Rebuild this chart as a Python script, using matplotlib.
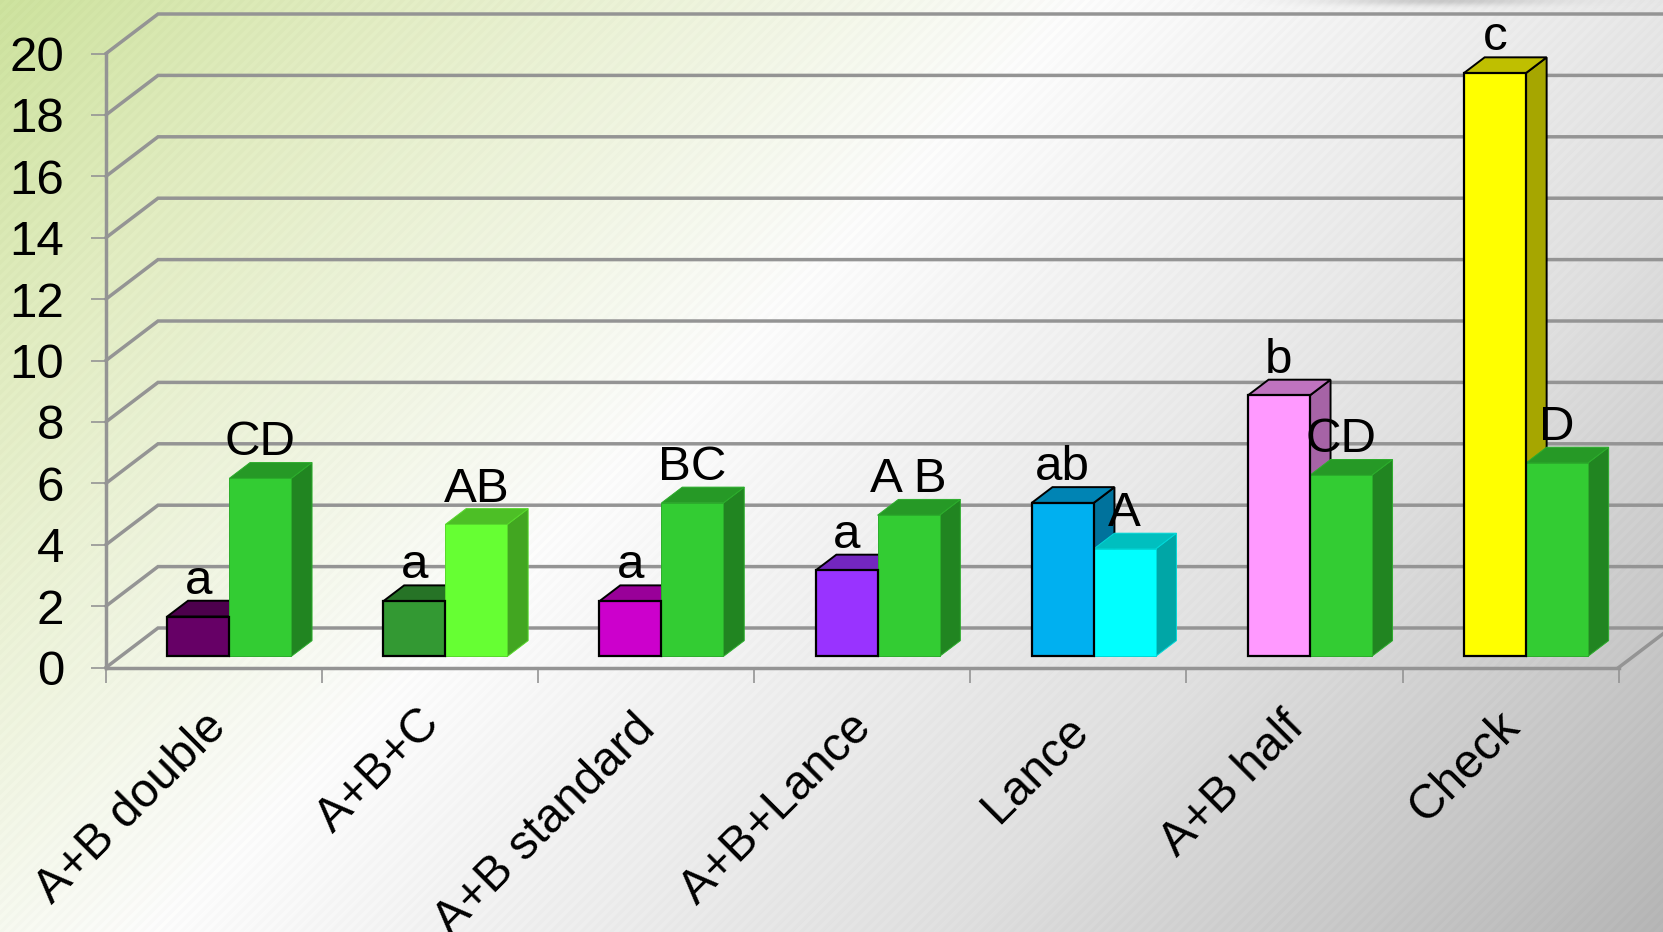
import matplotlib
matplotlib.use('Agg')
import matplotlib.pyplot as plt
import numpy as np
from matplotlib.colors import LinearSegmentedColormap, to_rgb
from matplotlib.transforms import IdentityTransform

# Data
CATEGORIES = ['A+B double', 'A+B+C', 'A+B standard', 'A+B+Lance', 'Lance', 'A+B half', 'Check']
SERIES_1 = [1.3, 1.8, 1.8, 2.8, 5.0, 8.5, 19.0]
SERIES_2 = [5.8, 4.3, 5.0, 4.6, 3.5, 5.9, 6.3]
LETTERS_1 = ['a', 'a', 'a', 'a', 'ab', 'b', 'c']
LETTERS_2 = ['CD', 'AB', 'BC', 'A B', 'A', 'CD', 'D']
COLORS_1 = ['#660066', '#339933', '#cc00cc', '#9933ff', '#00b0f0', '#ff99ff', '#ffff00']
COLORS_2 = ['#33cc33', '#66ff33', '#33cc33', '#33cc33', '#00ffff', '#33cc33', '#33cc33']
Y_TICKS = list(range(0, 21, 2))

# Where each rotated category label ends, in pixels from the top left
LABEL_ENDS = [(219, 720), (433, 716), (648, 722), (865, 720), (1082, 724), (1297, 720), (1513, 719)]

# Layout in pixels
WIDTH, HEIGHT = 1663, 932
X0, Y0 = 106, 667.5
CAT_W, UNIT_H = 216.1, 30.7
WALL_DX, WALL_DY = 52 / CAT_W, 39.5 / UNIT_H  # shift of the back wall, data units

BAR_W = 62 / CAT_W
BAR_OFFSET = 0.216
Z_FRONT, Z_BACK = 0.28, 0.68

GRID = '#949494'
FONT = 'Liberation Sans'
FONT_SIZE = 35.5
CATEGORY_FONT_SIZE = 34.5


def project(x, y, z):
    return x + z * WALL_DX, y + z * WALL_DY


def shade(color, factor):
    return tuple(c * factor for c in to_rgb(color))


def draw_background(fig):
    bg = fig.add_axes([0, 0, 1, 1], zorder=0)
    stops = [(0.0, '#cbe09c'), (0.14, '#dfeabf'), (0.42, '#fafafa'), (0.72, '#dedede'), (1.0, '#b4b4b4')]
    cmap = LinearSegmentedColormap.from_list('backdrop', stops)
    xx, yy = np.meshgrid(np.arange(WIDTH), np.arange(HEIGHT))
    t = (xx + yy) / (WIDTH + HEIGHT)
    rgb = cmap(t)[:, :, :3]
    # fine diagonal banding of the gradient
    bands = (np.floor((xx + yy) / 5) % 2) * 0.012
    rgb = np.clip(rgb + bands[:, :, None], 0, 1)
    # soft shadow along the top edge
    shadow = 0.16 * np.exp(-(yy / 5.0) ** 2) * np.exp(-((xx - 1440) / 110.0) ** 2)
    rgb = rgb * (1 - shadow[:, :, None])
    bg.imshow(rgb, aspect='auto', interpolation='nearest')
    bg.axis('off')


def draw_walls(ax):
    # gridlines run from the left edge to the back wall and across it
    for y in Y_TICKS:
        bx, by = project(0, y, 1)
        ex, ey = project(len(CATEGORIES) + 0.5, y, 1)
        ax.plot([0, bx, ex], [y, by, ey], color=GRID, lw=2.5, zorder=1, solid_joinstyle='miter')
    # right edge of the floor
    rx, ry = project(len(CATEGORIES), 0, 1)
    ax.plot([len(CATEGORIES), rx], [0, ry], color=GRID, lw=2.5, zorder=1)


def draw_box_back(ax, left, value, color, edge, lw, zorder):
    right = left + BAR_W
    side = [project(right, 0, Z_FRONT), project(right, 0, Z_BACK),
            project(right, value, Z_BACK), project(right, value, Z_FRONT)]
    top = [project(left, value, Z_FRONT), project(left, value, Z_BACK),
           project(right, value, Z_BACK), project(right, value, Z_FRONT)]
    ax.fill(*zip(*side), facecolor=shade(color, 0.65), edgecolor=edge, lw=lw, zorder=zorder)
    ax.fill(*zip(*top), facecolor=shade(color, 0.75), edgecolor=edge, lw=lw, zorder=zorder)


def draw_box_front(ax, left, value, color, edge, lw, zorder):
    x, y = project(left, 0, Z_FRONT)
    ax.bar(x, value, width=BAR_W, bottom=y, align='edge', color=color, edgecolor=edge, linewidth=lw, zorder=zorder)


def draw_bars(ax):
    for i in range(len(CATEGORIES)):
        left_1 = i + BAR_OFFSET
        left_2 = left_1 + BAR_W
        draw_box_back(ax, left_1, SERIES_1[i], COLORS_1[i], 'black', 1.4, 3)
        green_edge = shade(COLORS_2[i], 0.85)
        draw_box_back(ax, left_2, SERIES_2[i], COLORS_2[i], green_edge, 0.7, 4)
        draw_box_front(ax, left_2, SERIES_2[i], COLORS_2[i], green_edge, 0.7, 5)
        draw_box_front(ax, left_1, SERIES_1[i], COLORS_1[i], 'black', 1.6, 6)

        # significance letters sit a fixed distance above the front of each bar
        for left, value, letter in ((left_1, SERIES_1[i], LETTERS_1[i]), (left_2, SERIES_2[i], LETTERS_2[i])):
            x, y = project(left + BAR_W / 2, value, Z_FRONT)
            ax.annotate(letter, (x, y), xytext=(0, 16.5), textcoords='offset points',
                        ha='center', va='baseline', fontsize=FONT_SIZE, family=FONT, zorder=10)


def draw_axes(ax):
    for name in ('top', 'right'):
        ax.spines[name].set_visible(False)
    ax.spines['left'].set_position(('data', 0))
    ax.spines['bottom'].set_position(('data', 0))
    ax.spines['left'].set_bounds(0, 20)
    ax.spines['bottom'].set_bounds(0, len(CATEGORIES))
    for name in ('left', 'bottom'):
        ax.spines[name].set_color(GRID)
        ax.spines[name].set_linewidth(2.5)
        ax.spines[name].set_zorder(2)

    ax.set_yticks(Y_TICKS)
    ax.set_xticks(range(len(CATEGORIES) + 1))
    ax.set_xticklabels([])
    ax.tick_params(axis='both', direction='out', length=10.5, width=1.2, color=GRID)
    ax.tick_params(axis='y', pad=19.5, labelsize=FONT_SIZE)
    for label in ax.get_yticklabels():
        label.set_family(FONT)

    for name, (px, py) in zip(CATEGORIES, LABEL_ENDS):
        ax.text(px, HEIGHT - py, name, transform=IdentityTransform(), rotation=45, rotation_mode='anchor',
                ha='right', va='center', fontsize=CATEGORY_FONT_SIZE, family=FONT, zorder=10, clip_on=False)


def main():
    fig = plt.figure(figsize=(WIDTH / 100, HEIGHT / 100), dpi=100)
    draw_background(fig)

    ax = fig.add_axes([0, 0, 1, 1], zorder=1)
    ax.patch.set_visible(False)
    ax.set_xlim(-X0 / CAT_W, (WIDTH - X0) / CAT_W)
    ax.set_ylim(-(HEIGHT - Y0) / UNIT_H, Y0 / UNIT_H)

    draw_walls(ax)
    draw_bars(ax)
    draw_axes(ax)

    fig.savefig('out.png', dpi=100)


if __name__ == '__main__':
    main()
